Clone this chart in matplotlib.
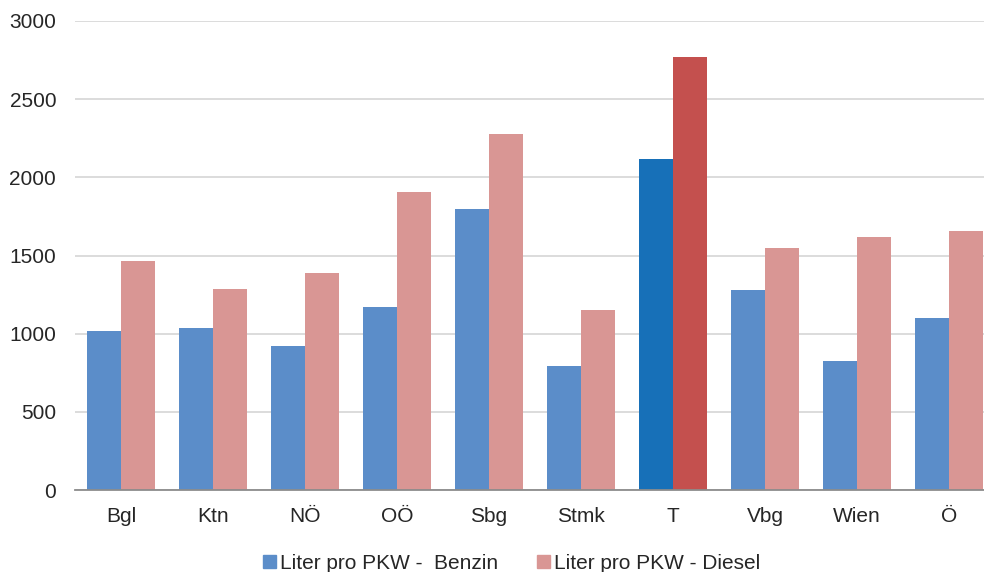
import numpy as np
import matplotlib
matplotlib.use("Agg")
import matplotlib.pyplot as plt
from matplotlib.patches import Patch

plt.rcParams['font.family'] = ['Liberation Sans', 'DejaVu Sans']

regions = ["Bgl", "Ktn", "NÖ", "OÖ", "Sbg", "Stmk", "T", "Vbg", "Wien", "Ö"]
benzin = [1017, 1036, 921, 1171, 1797, 793, 2117, 1279, 825, 1100]
diesel = [1465, 1286, 1388, 1906, 2277, 1151, 2770, 1548, 1618, 1657]
highlight = "T"

c_benzin = "#5B8DC9"
c_diesel = "#D99694"
c_benzin_hl = "#1770B8"
c_diesel_hl = "#C4504E"
text_col = "#262626"

fig = plt.figure(figsize=(9.84, 5.72), dpi=100)
ax = fig.add_axes([75/984, 82/572, 920/984, 469/572])

x = np.arange(len(regions))
w = 0.365
col_b = [c_benzin_hl if r == highlight else c_benzin for r in regions]
col_d = [c_diesel_hl if r == highlight else c_diesel for r in regions]
ax.bar(x - w/2, benzin, width=w, color=col_b, zorder=2)
ax.bar(x + w/2, diesel, width=w, color=col_d, zorder=2)

ax.set_xlim(-0.5, len(regions) - 0.5)
ax.set_ylim(0, 3000)
ax.set_yticks(np.arange(0, 3001, 500))
ax.set_xticks(x)
ax.set_xticklabels(regions)
ax.yaxis.grid(True, color="#D9D9D9", linewidth=1.3, zorder=0)
ax.set_axisbelow(True)
for s in ["top", "right", "left"]:
    ax.spines[s].set_visible(False)
ax.spines["bottom"].set_color("#8C8C8C")
ax.spines["bottom"].set_linewidth(1.3)
ax.spines["bottom"].set_zorder(3)
ax.tick_params(axis="both", length=0, labelsize=15, colors=text_col)
ax.tick_params(axis="x", pad=12)
ax.tick_params(axis="y", pad=13.5)

# legend sits at the very bottom, partly cut off like in the original
handles = [Patch(color=c_benzin, label="Liter pro PKW -  Benzin"),
           Patch(color=c_diesel, label="Liter pro PKW - Diesel")]
fig.legend(handles=handles, loc="center", bbox_to_anchor=(0.520, 0.015), ncol=2,
           frameon=False, fontsize=15, handlelength=0.6, handleheight=0.6,
           handletextpad=0.2, columnspacing=1.9, labelcolor=text_col)

plt.savefig("out.png", dpi=100)
plt.close()
